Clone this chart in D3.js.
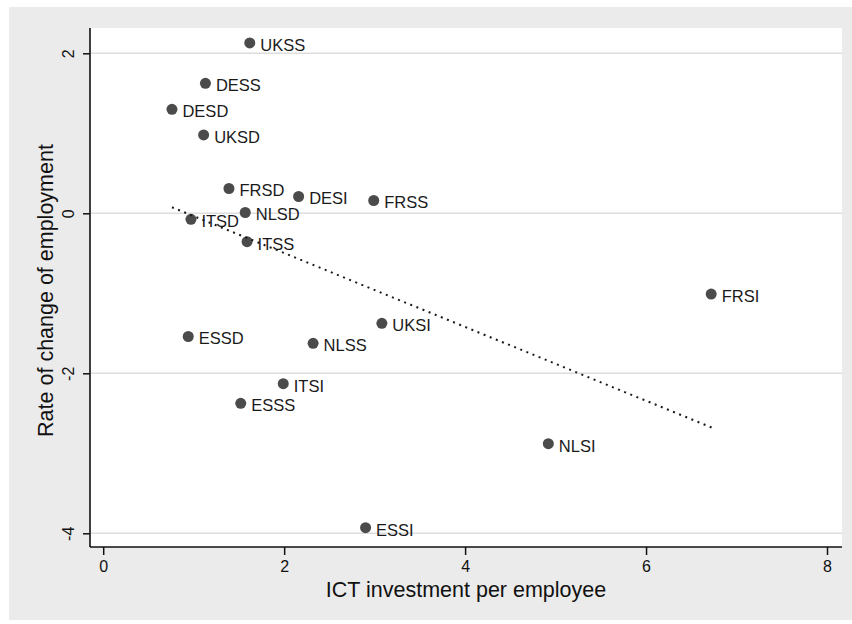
<!DOCTYPE html>
<html>
<head>
<meta charset="utf-8">
<script src="https://cdn.jsdelivr.net/npm/d3@7"></script>
<style>
  html, body { margin: 0; padding: 0; background: #ffffff; }
  svg { display: block; font-family: "Liberation Sans", Arial, Helvetica, sans-serif; }
</style>
</head>
<body>
<svg id="chart" width="852" height="624"></svg>
<script>
// Region/sector codes with ICT investment per employee (x) and rate of change of employment (y)
const labels = ["UKSS", "DESS", "DESD", "UKSD", "FRSD", "DESI", "FRSS", "NLSD", "ITSD",
                "ITSS", "FRSI", "UKSI", "ESSD", "NLSS", "ITSI", "ESSS", "NLSI", "ESSI"];
const ictInvestment = [1.62, 1.13, 0.76, 1.11, 1.39, 2.16, 2.99, 1.57, 0.97,
                       1.59, 6.72, 3.08, 0.94, 2.32, 1.99, 1.52, 4.92, 2.90];
const employmentChange = [2.13, 1.625, 1.30, 0.98, 0.31, 0.21, 0.16, 0.01, -0.075,
                          -0.355, -1.01, -1.375, -1.54, -1.625, -2.13, -2.375, -2.88, -3.93];

// Linear fit line, end points
const fitX = [0.76, 6.73];
const fitY = [0.075, -2.68];

const xTicks = [0, 2, 4, 6, 8];
const yTicks = [-4, -2, 0, 2];

const svg = d3.select("#chart");

// Outer graph region
svg.append("rect")
  .attr("x", 9).attr("y", 7)
  .attr("width", 843).attr("height", 613)
  .attr("fill", "#ebebeb");

// Plot region
const plot = { left: 90, right: 842, top: 28, bottom: 547 };
svg.append("rect")
  .attr("x", plot.left).attr("y", plot.top)
  .attr("width", plot.right - plot.left).attr("height", plot.bottom - plot.top)
  .attr("fill", "#ffffff");

const x = d3.scaleLinear().domain([0, 8]).range([103.2, 827]);
const y = d3.scaleLinear().domain([-4, 2]).range([533.3, 53.3]);

// Plain hyphen for negatives
const fmt = d => String(d);

// Horizontal grid lines
svg.append("g").selectAll("line")
  .data(yTicks)
  .join("line")
  .attr("x1", plot.left + 1).attr("x2", plot.right)
  .attr("y1", d => y(d)).attr("y2", d => y(d))
  .attr("stroke", "#dddddd")
  .attr("stroke-width", 1.6);

// Y axis
const yAxis = svg.append("g")
  .attr("transform", `translate(${plot.left},0)`)
  .call(d3.axisLeft(y).tickValues(yTicks).tickSize(7).tickPadding(0).tickFormat(fmt));
yAxis.select(".domain")
  .attr("d", `M0,${plot.top}V${plot.bottom}`)
  .attr("stroke", "#111").attr("stroke-width", 1.6);
yAxis.selectAll(".tick line").attr("stroke", "#111").attr("stroke-width", 1.5);
yAxis.selectAll(".tick text")
  .attr("x", 0).attr("dy", null)
  .attr("transform", "translate(-22,0) rotate(-90)")
  .attr("text-anchor", "middle")
  .attr("dominant-baseline", "central")
  .style("font-family", "'Liberation Sans', Arial, sans-serif")
  .style("font-size", "16px")
  .attr("fill", "#111");

// X axis
const xAxis = svg.append("g")
  .attr("transform", `translate(0,${plot.bottom})`)
  .call(d3.axisBottom(x).tickValues(xTicks).tickSize(8).tickPadding(6).tickFormat(fmt));
xAxis.select(".domain")
  .attr("d", `M${plot.left},0H${plot.right}`)
  .attr("stroke", "#111").attr("stroke-width", 1.6);
xAxis.selectAll(".tick line").attr("stroke", "#111").attr("stroke-width", 1.5);
xAxis.selectAll(".tick text")
  .style("font-family", "'Liberation Sans', Arial, sans-serif")
  .style("font-size", "16px")
  .attr("fill", "#111");

// Axis titles
svg.append("text")
  .attr("x", (plot.left + plot.right) / 2)
  .attr("y", 597)
  .attr("text-anchor", "middle")
  .style("font-size", "21.5px")
  .attr("fill", "#111")
  .text("ICT investment per employee");

svg.append("text")
  .attr("transform", `translate(53,${(plot.top + plot.bottom) / 2 + 3}) rotate(-90)`)
  .attr("text-anchor", "middle")
  .style("font-size", "21.5px")
  .attr("fill", "#111")
  .text("Rate of change of employment");

// Points and their labels
const pts = labels.map((l, i) => ({ label: l, x: ictInvestment[i], y: employmentChange[i] }));

const g = svg.append("g");
g.selectAll("circle")
  .data(pts)
  .join("circle")
  .attr("cx", d => x(d.x))
  .attr("cy", d => y(d.y))
  .attr("r", 5.5)
  .attr("fill", "#4b4b4b");

g.selectAll("text")
  .data(pts)
  .join("text")
  .attr("x", d => x(d.x) + 10.5)
  .attr("y", d => y(d.y) + 7.8)
  .style("font-size", "16.5px")
  .attr("fill", "#1a1a1a")
  .text(d => d.label);

// Fitted line, dotted
svg.append("path")
  .datum(fitX.map((v, i) => [v, fitY[i]]))
  .attr("d", d3.line().x(d => x(d[0])).y(d => y(d[1])))
  .attr("fill", "none")
  .attr("stroke", "#1a1a1a")
  .attr("stroke-width", 2)
  .attr("stroke-dasharray", "2 4.6");
</script>
</body>
</html>
